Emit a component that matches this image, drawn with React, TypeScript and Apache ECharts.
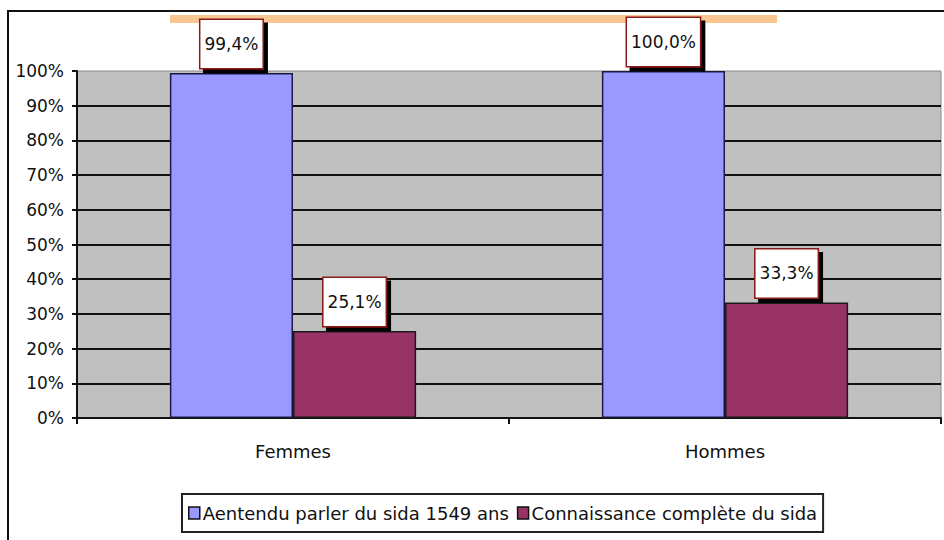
import React, { useEffect, useRef } from "react";
import * as echarts from "echarts";

const categories = ["Femmes", "Hommes"];
const seriesNames = ["Aentendu parler du sida 1549 ans", "Connaissance complète du sida"];
const heardValues = [99.4, 100.0];
const knowledgeValues = [25.1, 33.3];
const yTicks = { min: 0, max: 100, interval: 10 };

const FONT = "DejaVu Sans";

export default function App() {
  const ref = useRef<HTMLDivElement>(null);
  useEffect(() => {
    if (!ref.current) return;
    const chart = echarts.init(ref.current, null, { renderer: "svg" });
    const fmt = (v: number) => v.toFixed(1).replace(".", ",") + "%";
    const label = {
      show: true,
      position: "top",
      distance: 5,
      formatter: (p: any) => fmt(p.value),
      fontFamily: FONT,
      fontSize: 17,
      color: "#111",
      backgroundColor: "#ffffff",
      borderColor: "#8B1A1A",
      borderWidth: 1.5,
      padding: [14, 4],
      lineHeight: 20,
      shadowColor: "#000",
      shadowOffsetX: 4,
      shadowOffsetY: 4,
      shadowBlur: 0,
    };
    chart.setOption({
      animation: false,
      graphic: [
        {
          type: "rect",
          shape: { x: 8, y: 11, width: 1000, height: 600 },
          style: { fill: "none", stroke: "#111", lineWidth: 2 },
          silent: true,
        },
        {
          type: "rect",
          shape: { x: 170, y: 15, width: 607, height: 8 },
          style: { fill: "#F9C691" },
          silent: true,
        },
      ],
      grid: {
        left: 77,
        right: 3,
        top: 71,
        bottom: 122,
        show: true,
        backgroundColor: "#C0C0C0",
        borderColor: "#8a8a8a",
        borderWidth: 1,
      },
      legend: {
        left: 182,
        top: 494,
        data: seriesNames,
        orient: "horizontal",
        icon: "rect",
        padding: [10, 6],
        itemGap: 8,
        itemWidth: 11,
        itemHeight: 12,
        borderColor: "#222",
        borderWidth: 2,
        textStyle: { fontFamily: FONT, fontSize: 18, color: "#111", padding: [0, 0, 0, -2] },
        itemStyle: { borderColor: "#111", borderWidth: 1.5 },
      },
      xAxis: {
        type: "category",
        data: categories,
        axisLine: { lineStyle: { color: "#111", width: 2 } },
        axisTick: { show: true, length: 6, lineStyle: { color: "#111", width: 2 } },
        axisLabel: { fontFamily: FONT, fontSize: 18, color: "#111", margin: 24 },
      },
      yAxis: {
        type: "value",
        min: yTicks.min,
        max: yTicks.max,
        interval: yTicks.interval,
        axisLine: { show: true, lineStyle: { color: "#111", width: 2 } },
        axisTick: { show: true, length: 5, lineStyle: { color: "#111", width: 2 } },
        axisLabel: { fontFamily: FONT, fontSize: 17, color: "#111", margin: 13, formatter: "{value}%" },
        splitLine: { show: true, showMaxLine: false, lineStyle: { color: "#111", width: 2 } },
      },
      series: [
        {
          name: seriesNames[0],
          type: "bar",
          data: heardValues,
          barGap: "0%",
          barCategoryGap: "43%",
          itemStyle: { color: "#9999FF", borderColor: "#1a1a40", borderWidth: 1.5 },
          label,
        },
        {
          name: seriesNames[1],
          type: "bar",
          data: knowledgeValues,
          barGap: "0%",
          barCategoryGap: "43%",
          itemStyle: { color: "#993366", borderColor: "#1a1a1a", borderWidth: 1.5 },
          label,
        },
      ],
    });
    return () => chart.dispose();
  }, []);
  return (
    <div
      ref={ref}
      style={{ position: "fixed", left: 0, top: 0, width: 944, height: 540, background: "#fff" }}
    />
  );
}
